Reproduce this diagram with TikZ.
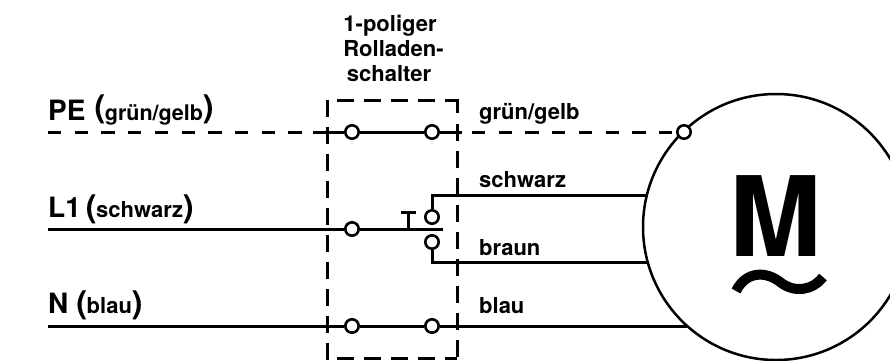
\documentclass[tikz,border=0pt]{standalone}
\usetikzlibrary{backgrounds}
\usepackage{fontspec}
\setmainfont{TeX Gyre Heros}
\newcommand{\fsz}[1]{\fontsize{#1}{#1}\selectfont\bfseries}
\newcommand{\bigparen}[2]{\raisebox{#1}{\fsz{31}\addfontfeature{FakeBold=0.3}#2}}
\tikzset{
  wire/.style={line width=3pt,line cap=butt},
  pedash/.style={wire,dash pattern=on 13.3pt off 13.4pt},
  boxdash/.style={line width=3pt,dash pattern=on 17pt off 10pt},
  term/.style={circle,draw,line width=2.6pt,fill=white,minimum size=13.4pt,inner sep=0pt},
  big/.style={anchor=base west,inner sep=0pt,font=\fsz{28}},
  lab/.style={anchor=base west,inner sep=0pt,font=\fsz{22}},
  ttl/.style={anchor=base,inner sep=0pt,font=\fsz{22}}
}
\begin{document}
\begin{tikzpicture}[x=1pt,y=-1pt]
\useasboundingbox (0,0) rectangle (890,360);
\clip (0,0) rectangle (890,360);
% motor and terminals
\node[circle,draw,line width=2.5pt,fill=white,minimum size=266pt,inner sep=0pt] (motor) at (776,227) {};
\node[term] (a1) at (352,132) {};
\node[term] (a2) at (432,132) {};
\node[term] (b1) at (352,229) {};
\node[term] (c1) at (432,217) {};
\node[term] (c2) at (432,242) {};
\node[term] (d1) at (352,326) {};
\node[term] (d2) at (432,326) {};
\node[term] (pem) at (684,132) {};
% free ends
\coordinate (peL) at (48,132);
\coordinate (l1L) at (48,229);
\coordinate (nL) at (48,326);
\coordinate (l1R) at (443,229);
\coordinate (msch) at (655,195.5);
\coordinate (mbr) at (655,262);
\coordinate (mbl) at (690,326);
\coordinate (pel) at (313,132);
\coordinate (per) at (462,132);
\coordinate (pea) at (472,132);
\coordinate (peb) at (305,132);
\coordinate (tfoot) at (408,229);
\coordinate (ttop) at (408,212);
\coordinate (ttl) at (401,212);
\coordinate (ttr) at (416,212);
\begin{scope}[on background layer]
% switch box
\draw[boxdash] (327.5,100) -- (327.5,360);
\draw[boxdash] (337,100) -- (449,100);
\draw[line width=3pt] (449,100) -- (457.5,100) -- (457.5,113);
\draw[boxdash] (457.5,124) -- (457.5,360);
\draw[boxdash] (337,358.5) -- (457,358.5);
% wires
\draw[pedash] (peL) -- (peb);
\draw[wire] (pel) -- (a1);
\draw[wire] (a1) -- (a2);
\draw[wire] (a2) -- (per);
\draw[pedash] (pea) -- (pem);
\draw[wire] (l1L) -- (b1);
\draw[wire] (b1) -- (l1R);
\draw[wire] (tfoot) -- (ttop);
\draw[wire] (ttl) -- (ttr);
\draw[wire] (c1) |- (msch);
\draw[wire] (c2) |- (mbr);
\draw[wire] (nL) -- (d1);
\draw[wire] (d1) -- (d2);
\draw[wire] (d2) -- (mbl);
\end{scope}
\node[anchor=base,inner sep=0pt,font=\fsz{111}] (mm) at (776,256) {M};
\draw[line width=10pt,line cap=butt] (736,291) .. controls (746,271) and (766,271) .. (780,282) .. controls (794,293) and (812,291) .. (823,277);
% labels
\node[big] (lpe) at (48,120) {PE\hspace{9pt}\bigparen{3pt}{(}{\fsz{21.5}grün/gelb}\bigparen{3pt}{)}};
\node[big] (ll1) at (48,217) {L1\hspace{5pt}\bigparen{0pt}{(}{\fsz{22}schwarz}\bigparen{0pt}{)}};
\node[big] (ln) at (48,313) {N\hspace{8pt}\bigparen{0pt}{(}{\fsz{22}blau}\bigparen{0pt}{)}};
\node[lab] (g) at (479,119) {grün/gelb};
\node[lab] (s) at (479,187) {schwarz};
\node[lab] (br2) at (479,255) {braun};
\node[lab] (bl2) at (479,313) {blau};
\node[ttl] (t1) at (390,31) {1-poliger};
\node[ttl] (t2) at (393.5,56) {Rolladen-};
\node[ttl] (t3) at (389,81) {schalter};
\end{tikzpicture}
\end{document}
